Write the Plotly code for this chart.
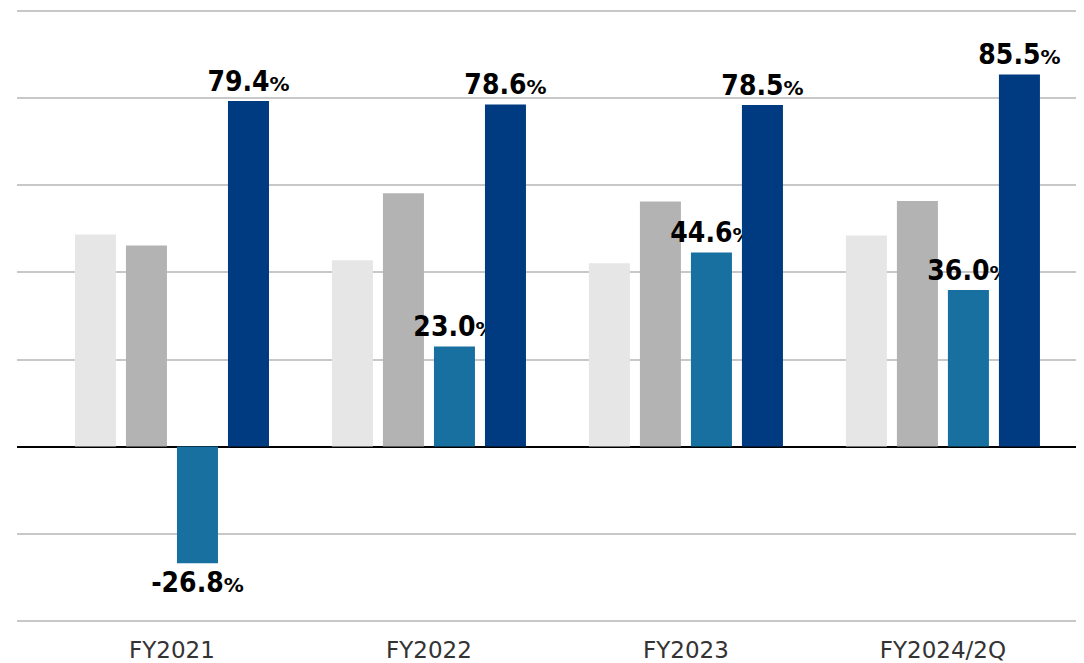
import plotly.graph_objects as go

categories = ["FY2021", "FY2022", "FY2023", "FY2024/2Q"]
series_a = [48.7, 42.8, 42.1, 48.5]   # light gray (unlabeled)
series_b = [46.2, 58.2, 56.3, 56.4]   # gray (unlabeled)
series_c = [-26.8, 23.0, 44.6, 36.0]  # teal, labeled
series_d = [79.4, 78.6, 78.5, 85.5]   # navy, labeled

colors = ["#E6E6E6", "#B3B3B3", "#17709F", "#003A80"]


def labels(vals):
    return [f"<b>{v:.1f}</b><b><span style='font-size:20px;font-family:DejaVu Sans'>%</span></b>"
            for v in vals]


fig = go.Figure()
for vals, col, lab in [
    (series_a, colors[0], False),
    (series_b, colors[1], False),
    (series_c, colors[2], True),
    (series_d, colors[3], True),
]:
    fig.add_trace(go.Bar(
        x=categories, y=vals,
        marker=dict(color=col, line=dict(width=0)),
        text=labels(vals) if lab else None,
        textposition="outside" if lab else "none",
        textfont=dict(family="DejaVu Sans Condensed, DejaVu Sans", size=28, color="#000000"),
        constraintext="none",
        cliponaxis=False,
        hoverinfo="skip",
    ))

# page body adds an 8px offset, so figure is sized to fit the 1084x663 window
fig.update_layout(
    width=1076, height=655,
    margin=dict(l=9, r=0, t=2, b=41, autoexpand=False),
    paper_bgcolor="white", plot_bgcolor="white",
    barmode="group", bargap=0.206, bargroupgap=0.196,
    showlegend=False,
    font=dict(family="DejaVu Sans", color="#333333"),
)
fig.update_xaxes(
    range=[-0.603, 3.549],
    showgrid=False, showline=False, ticks="",
    tickfont=dict(family="DejaVu Sans", size=23, color="#333333"),
    ticklabelstandoff=12,
    automargin=False,
)
fig.update_yaxes(
    range=[-40.3, 100.3], dtick=20, tick0=0,
    showticklabels=False, showline=False, ticks="",
    gridcolor="#C8C8C8", gridwidth=1.5,
    zeroline=True, zerolinecolor="#000000", zerolinewidth=1.5,
)

fig.write_html("out.html")
